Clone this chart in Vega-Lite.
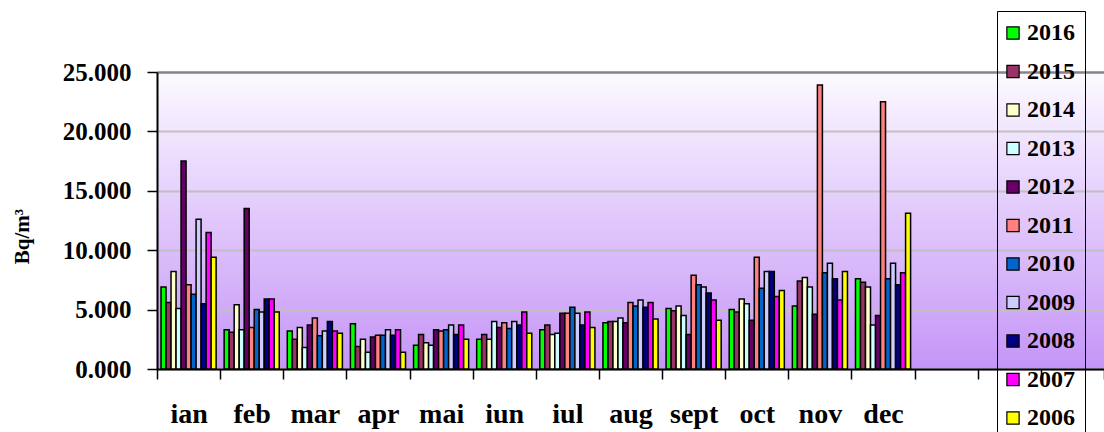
{
  "$schema": "https://vega.github.io/schema/vega-lite/v6.json",
  "autosize": {"type": "none"},
  "padding": {"left": 157, "top": 72, "right": 0, "bottom": 63},
  "width": 947,
  "height": 297,
  "background": "white",
  "config": {
    "view": {
      "stroke": null,
      "fill": {"gradient": "linear", "x1": 0, "y1": 0, "x2": 0, "y2": 1,
        "stops": [{"offset": 0, "color": "#fcfaff"}, {"offset": 1, "color": "#c595f7"}]}
    }
  },
  "data": {"values": [
    {"m":"ian","y":"2016","v":6900},{"m":"ian","y":"2015","v":5600},{"m":"ian","y":"2014","v":8200},{"m":"ian","y":"2013","v":5100},{"m":"ian","y":"2012","v":17500},{"m":"ian","y":"2011","v":7100},{"m":"ian","y":"2010","v":6300},{"m":"ian","y":"2009","v":12600},{"m":"ian","y":"2008","v":5500},{"m":"ian","y":"2007","v":11500},{"m":"ian","y":"2006","v":9400},
    {"m":"feb","y":"2016","v":3300},{"m":"feb","y":"2015","v":3100},{"m":"feb","y":"2014","v":5400},{"m":"feb","y":"2013","v":3300},{"m":"feb","y":"2012","v":13500},{"m":"feb","y":"2011","v":3500},{"m":"feb","y":"2010","v":5000},{"m":"feb","y":"2009","v":4800},{"m":"feb","y":"2008","v":5900},{"m":"feb","y":"2007","v":5900},{"m":"feb","y":"2006","v":4800},
    {"m":"mar","y":"2016","v":3200},{"m":"mar","y":"2015","v":2500},{"m":"mar","y":"2014","v":3500},{"m":"mar","y":"2013","v":1800},{"m":"mar","y":"2012","v":3700},{"m":"mar","y":"2011","v":4300},{"m":"mar","y":"2010","v":2800},{"m":"mar","y":"2009","v":3200},{"m":"mar","y":"2008","v":4000},{"m":"mar","y":"2007","v":3200},{"m":"mar","y":"2006","v":3000},
    {"m":"apr","y":"2016","v":3800},{"m":"apr","y":"2015","v":1900},{"m":"apr","y":"2014","v":2500},{"m":"apr","y":"2013","v":1400},{"m":"apr","y":"2012","v":2700},{"m":"apr","y":"2011","v":2850},{"m":"apr","y":"2010","v":2850},{"m":"apr","y":"2009","v":3300},{"m":"apr","y":"2008","v":2850},{"m":"apr","y":"2007","v":3300},{"m":"apr","y":"2006","v":1400},
    {"m":"mai","y":"2016","v":2000},{"m":"mai","y":"2015","v":2900},{"m":"mai","y":"2014","v":2200},{"m":"mai","y":"2013","v":2000},{"m":"mai","y":"2012","v":3300},{"m":"mai","y":"2011","v":3200},{"m":"mai","y":"2010","v":3300},{"m":"mai","y":"2009","v":3700},{"m":"mai","y":"2008","v":2900},{"m":"mai","y":"2007","v":3700},{"m":"mai","y":"2006","v":2500},
    {"m":"iun","y":"2016","v":2500},{"m":"iun","y":"2015","v":2900},{"m":"iun","y":"2014","v":2500},{"m":"iun","y":"2013","v":4000},{"m":"iun","y":"2012","v":3500},{"m":"iun","y":"2011","v":3900},{"m":"iun","y":"2010","v":3400},{"m":"iun","y":"2009","v":4000},{"m":"iun","y":"2008","v":3700},{"m":"iun","y":"2007","v":4800},{"m":"iun","y":"2006","v":3000},
    {"m":"iul","y":"2016","v":3300},{"m":"iul","y":"2015","v":3700},{"m":"iul","y":"2014","v":2900},{"m":"iul","y":"2013","v":3000},{"m":"iul","y":"2012","v":4700},{"m":"iul","y":"2011","v":4700},{"m":"iul","y":"2010","v":5200},{"m":"iul","y":"2009","v":4700},{"m":"iul","y":"2008","v":3700},{"m":"iul","y":"2007","v":4800},{"m":"iul","y":"2006","v":3500},
    {"m":"aug","y":"2016","v":3900},{"m":"aug","y":"2015","v":4000},{"m":"aug","y":"2014","v":4000},{"m":"aug","y":"2013","v":4300},{"m":"aug","y":"2012","v":3900},{"m":"aug","y":"2011","v":5600},{"m":"aug","y":"2010","v":5300},{"m":"aug","y":"2009","v":5800},{"m":"aug","y":"2008","v":5200},{"m":"aug","y":"2007","v":5600},{"m":"aug","y":"2006","v":4200},
    {"m":"sept","y":"2016","v":5100},{"m":"sept","y":"2015","v":4900},{"m":"sept","y":"2014","v":5300},{"m":"sept","y":"2013","v":4500},{"m":"sept","y":"2012","v":2900},{"m":"sept","y":"2011","v":7900},{"m":"sept","y":"2010","v":7100},{"m":"sept","y":"2009","v":6900},{"m":"sept","y":"2008","v":6400},{"m":"sept","y":"2007","v":5800},{"m":"sept","y":"2006","v":4100},
    {"m":"oct","y":"2016","v":5000},{"m":"oct","y":"2015","v":4800},{"m":"oct","y":"2014","v":5900},{"m":"oct","y":"2013","v":5500},{"m":"oct","y":"2012","v":4100},{"m":"oct","y":"2011","v":9400},{"m":"oct","y":"2010","v":6800},{"m":"oct","y":"2009","v":8200},{"m":"oct","y":"2008","v":8200},{"m":"oct","y":"2007","v":6100},{"m":"oct","y":"2006","v":6600},
    {"m":"nov","y":"2016","v":5300},{"m":"nov","y":"2015","v":7400},{"m":"nov","y":"2014","v":7700},{"m":"nov","y":"2013","v":6900},{"m":"nov","y":"2012","v":4600},{"m":"nov","y":"2011","v":23900},{"m":"nov","y":"2010","v":8100},{"m":"nov","y":"2009","v":8900},{"m":"nov","y":"2008","v":7600},{"m":"nov","y":"2007","v":5800},{"m":"nov","y":"2006","v":8200},
    {"m":"dec","y":"2016","v":7600},{"m":"dec","y":"2015","v":7300},{"m":"dec","y":"2014","v":6900},{"m":"dec","y":"2013","v":3700},{"m":"dec","y":"2012","v":4500},{"m":"dec","y":"2011","v":22500},{"m":"dec","y":"2010","v":7600},{"m":"dec","y":"2009","v":8900},{"m":"dec","y":"2008","v":7100},{"m":"dec","y":"2007","v":8100},{"m":"dec","y":"2006","v":13100}
  ]},
  "mark": {"type": "bar", "stroke": "black", "strokeWidth": 1.5},
  "encoding": {
    "x": {
      "field": "m", "type": "nominal",
      "scale": {"domain": ["ian","feb","mar","apr","mai","iun","iul","aug","sept","oct","nov","dec","e1","e2","e3"], "paddingInner": 0, "paddingOuter": 0},
      "axis": {
        "title": null, "labelAngle": 0, "tickBand": "extent",
        "labelExpr": "indexof(['e1','e2','e3'], datum.value) >= 0 ? '' : datum.label",
        "labelFont": "Liberation Serif", "labelFontWeight": "bold", "labelFontSize": 28, "labelColor": "black",
        "labelPadding": 21, "tickSize": 10, "tickColor": "black", "tickWidth": 1.5,
        "domainColor": "black", "domainWidth": 2, "grid": false
      }
    },
    "xOffset": {
      "field": "y", "type": "nominal",
      "sort": ["2016","2015","2014","2013","2012","2011","2010","2009","2008","2007","2006"],
      "scale": {"paddingInner": 0, "paddingOuter": 0.8}
    },
    "y": {
      "field": "v", "type": "quantitative",
      "scale": {"domain": [0, 25000], "nice": false},
      "axis": {
        "title": "Bq/m³", "titleFont": "Liberation Serif", "titleFontWeight": "bold", "titleFontSize": 21, "titleColor": "black",
        "titleAngle": -90, "titleX": -135, "titleY": 164, "titleAlign": "center", "titleBaseline": "middle",
        "values": [0, 5000, 10000, 15000, 20000, 25000],
        "labelExpr": "format(datum.value / 1000, '.3f')",
        "labelFont": "Liberation Serif", "labelFontWeight": "bold", "labelFontSize": 25, "labelColor": "black",
        "labelPadding": 16, "tickSize": 10, "tickColor": "black", "tickWidth": 1.5,
        "domainColor": "black", "domainWidth": 2,
        "grid": true, "gridColor": {"condition": {"test": "datum.value == 25000", "value": "#858585"}, "value": "#c0c0c0"},
        "gridWidth": {"condition": {"test": "datum.value == 25000", "value": 2.5}, "value": 2}
      }
    },
    "color": {
      "field": "y", "type": "nominal",
      "sort": ["2016","2015","2014","2013","2012","2011","2010","2009","2008","2007","2006"],
      "scale": {
        "domain": ["2016","2015","2014","2013","2012","2011","2010","2009","2008","2007","2006"],
        "range": ["#00ff00","#993366","#ffffcc","#ccffff","#660066","#ff8080","#0066cc","#ccccff","#000080","#ff00ff","#ffff00"]
      },
      "legend": {
        "title": null, "orient": "none", "legendX": 840, "legendY": -61,
        "strokeColor": "black", "fillColor": null, "padding": 10,
        "symbolType": "square", "symbolSize": 150, "symbolStrokeColor": "black", "symbolStrokeWidth": 1.2,
        "symbolOffset": -6,
        "labelFont": "Liberation Serif", "labelFontWeight": "bold", "labelFontSize": 24, "labelColor": "black",
        "labelOffset": 2, "rowPadding": 14.5, "labelLimit": 200
      }
    }
  }
}
